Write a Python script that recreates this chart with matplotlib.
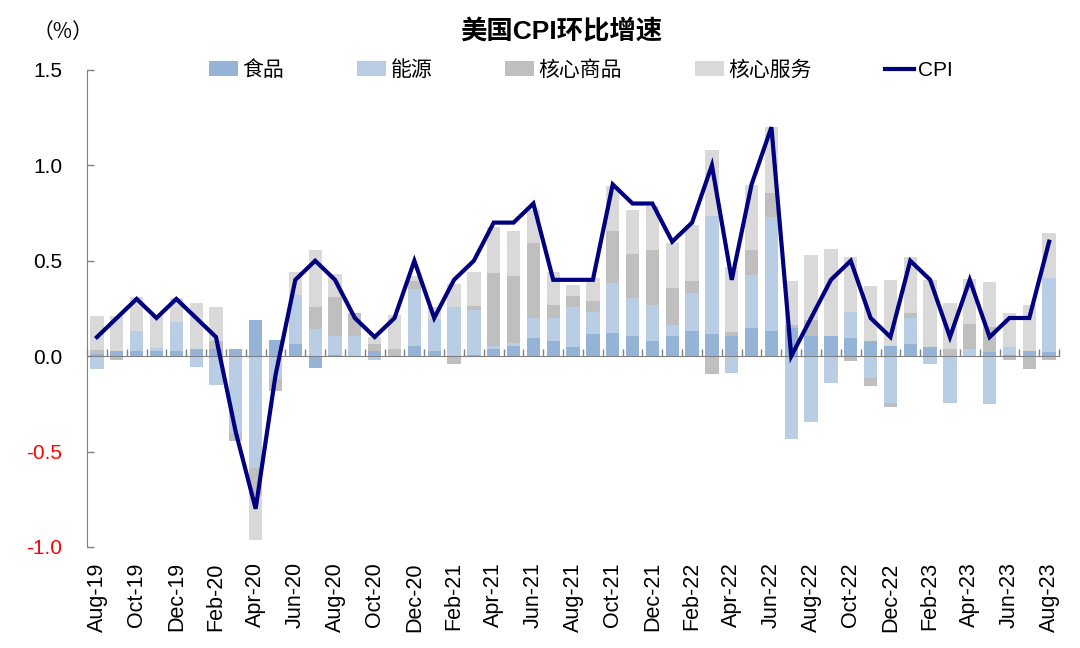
import matplotlib

matplotlib.use("Agg")
import matplotlib.pyplot as plt
import numpy as np
from matplotlib.lines import Line2D
from matplotlib.patches import Patch

FONT = ["Liberation Sans", "Noto Sans CJK SC", "DejaVu Sans"]
plt.rcParams["font.family"] = FONT

MONTHS = [
    "Aug-19", "Sep-19", "Oct-19", "Nov-19", "Dec-19", "Jan-20", "Feb-20", "Mar-20",
    "Apr-20", "May-20", "Jun-20", "Jul-20", "Aug-20", "Sep-20", "Oct-20", "Nov-20",
    "Dec-20", "Jan-21", "Feb-21", "Mar-21", "Apr-21", "May-21", "Jun-21", "Jul-21",
    "Aug-21", "Sep-21", "Oct-21", "Nov-21", "Dec-21", "Jan-22", "Feb-22", "Mar-22",
    "Apr-22", "May-22", "Jun-22", "Jul-22", "Aug-22", "Sep-22", "Oct-22", "Nov-22",
    "Dec-22", "Jan-23", "Feb-23", "Mar-23", "Apr-23", "May-23", "Jun-23", "Jul-23",
    "Aug-23",
]

# contributions to m/m CPI, percentage points
food = [
    0.01, 0.025, 0.025, 0.025, 0.025, 0.04, 0.04, 0.04, 0.19, 0.085,
    0.065, -0.06, 0.005, 0.0, 0.026, 0.0, 0.052, 0.026, 0.0, 0.007,
    0.04, 0.052, 0.094, 0.077, 0.05, 0.117, 0.122, 0.108, 0.077, 0.103,
    0.13, 0.117, 0.105, 0.147, 0.131, 0.147, 0.105, 0.105, 0.094, 0.079,
    0.052, 0.066, 0.05, 0.0, 0.0, 0.023, 0.008, 0.026, 0.023,
]
energy = [
    -0.065, 0.0, 0.105, 0.02, 0.155, -0.056, -0.149, -0.405, -0.586, -0.122,
    0.257, 0.14, 0.103, 0.107, -0.02, 0.0, 0.30, 0.17, 0.26, 0.236,
    0.014, 0.017, 0.105, 0.124, 0.206, 0.114, 0.262, 0.196, 0.19, 0.058,
    0.2, 0.617, -0.087, 0.28, 0.598, -0.434, -0.346, -0.142, 0.136, -0.115,
    -0.247, 0.136, -0.042, -0.245, 0.038, -0.25, 0.04, 0.0, 0.388,
]
core_goods = [
    0.02, -0.02, 0.0, 0.0, 0.0, 0.0, 0.04, -0.04, -0.14, -0.061,
    0.0, 0.117, 0.2, 0.12, 0.037, 0.037, 0.04, 0.0, -0.04, 0.018,
    0.383, 0.35, 0.393, 0.065, 0.058, 0.06, 0.27, 0.23, 0.29, 0.196,
    0.066, -0.093, 0.02, 0.128, 0.126, 0.017, 0.082, 0.0, -0.023, -0.042,
    -0.02, 0.024, 0.0, 0.038, 0.13, 0.128, -0.02, -0.065, -0.02,
]
core_services = [
    0.18, 0.185, 0.18, 0.165, 0.125, 0.24, 0.178, 0.0, -0.24, 0.0,
    0.12, 0.30, 0.12, 0.0, 0.038, 0.18, 0.03, 0.06, 0.12, 0.18,
    0.24, 0.238, 0.175, 0.175, 0.06, 0.12, 0.236, 0.23, 0.23, 0.236,
    0.29, 0.348, 0.34, 0.344, 0.346, 0.23, 0.344, 0.458, 0.29, 0.29,
    0.348, 0.294, 0.35, 0.24, 0.238, 0.236, 0.18, 0.24, 0.234,
]
cpi = [
    0.1, 0.2, 0.3, 0.2, 0.3, 0.2, 0.1, -0.4, -0.8, -0.1,
    0.4, 0.5, 0.4, 0.2, 0.1, 0.2, 0.5, 0.2, 0.4, 0.5,
    0.7, 0.7, 0.8, 0.4, 0.4, 0.4, 0.9, 0.8, 0.8, 0.6,
    0.7, 1.0, 0.4, 0.9, 1.2, 0.0, 0.2, 0.4, 0.5, 0.2,
    0.1, 0.5, 0.4, 0.1, 0.4, 0.1, 0.2, 0.2, 0.6,
]

SERIES = [
    ("食品", food, "#95B3D7"),
    ("能源", energy, "#B9CDE5"),
    ("核心商品", core_goods, "#BFBFBF"),
    ("核心服务", core_services, "#D9D9D9"),
]
LINE_COLOR = "#000080"


def main() -> None:
    fig = plt.figure(figsize=(10.8, 6.48), dpi=100)
    ax = fig.add_axes([0.0806, 0.156, 0.9, 0.736])

    x = np.arange(len(MONTHS))
    pos_base = np.zeros(len(MONTHS))
    neg_base = np.zeros(len(MONTHS))
    for _, vals, color in SERIES:
        v = np.asarray(vals, dtype=float)
        bottom = np.where(v >= 0, pos_base, neg_base)
        ax.bar(x, v, bottom=bottom, width=0.67, color=color, linewidth=0, zorder=2)
        pos_base += np.clip(v, 0, None)
        neg_base += np.clip(v, None, 0)

    ax.plot(x, cpi, color=LINE_COLOR, linewidth=3.0, zorder=4, solid_joinstyle="miter")

    ax.set_xlim(-0.5, len(MONTHS) - 0.5)
    ax.set_ylim(-1.0, 1.5)

    # y axis
    yt = np.arange(-1.0, 1.51, 0.5)
    ax.set_yticks(yt)
    ax.set_yticklabels([f"{v:.1f}" for v in yt], fontsize=15)
    for lbl, v in zip(ax.get_yticklabels(), yt):
        if v < 0:
            lbl.set_color("red")
    ax.tick_params(axis="y", direction="in", length=5, width=1, color="#808080", pad=18)

    # zero line doubles as the x axis, ticks at category boundaries
    for side in ("top", "right"):
        ax.spines[side].set_visible(False)
    ax.spines["left"].set_color("#808080")
    ax.spines["bottom"].set_position(("data", 0))
    ax.spines["bottom"].set_color("#808080")
    ax.spines["bottom"].set_zorder(3)
    ax.set_xticks(np.arange(-0.5, len(MONTHS), 1.0))
    ax.tick_params(axis="x", direction="in", length=5, width=1, color="#808080", labelbottom=False)

    sec = ax.secondary_xaxis("bottom")
    sec.set_xticks(x[::2])
    sec.set_xticklabels(MONTHS[::2], rotation=90, fontsize=15.5)
    sec.tick_params(length=0, pad=11)
    sec.spines["bottom"].set_visible(False)

    fig.text(0.52, 0.951, "美国CPI环比增速", ha="center", va="center",
             fontsize=19, fontweight="bold")
    fig.text(0.058, 0.951, "（%）", ha="center", va="center", fontsize=15,
             family=["Noto Sans CJK SC", "Liberation Sans"])

    handles = [Patch(facecolor=c, edgecolor="none", label=n) for n, _, c in SERIES]
    handles.append(Line2D([], [], color=LINE_COLOR, linewidth=3.0, label="CPI"))
    fig.legend(handles=handles, loc="center", bbox_to_anchor=(0.538, 0.892), ncol=5,
               frameon=False, fontsize=15, handlelength=1.4, handleheight=0.7,
               handletextpad=0.2, columnspacing=3.5)

    fig.savefig("out.png", dpi=100)
    plt.close(fig)


if __name__ == "__main__":
    main()
